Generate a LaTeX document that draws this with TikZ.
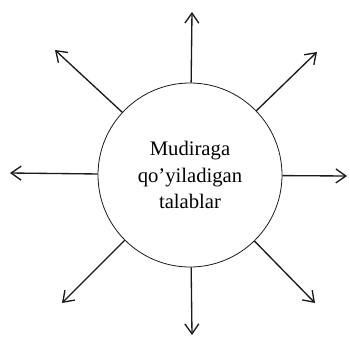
\documentclass[tikz,border=0pt]{standalone}
\usepackage{fontspec}
\setmainfont{Liberation Serif}
\usetikzlibrary{arrows.meta}

\begin{document}
\begin{tikzpicture}[x=0.75pt, y=-0.75pt]
    % Define circle size
    \def\circleSize{138pt}

    \definecolor{borderColour}{HTML}{1A1A1A}

    % Fix the picture margins
    \useasboundingbox (0,0) rectangle (350,340);

    % Draw the central circle
    \node[circle, draw=borderColour, line width=0.6pt, minimum size=\circleSize,
          align=center, font=\fontsize{15.5}{20}\selectfont] (req) at (190,175)
        {Mudiraga\\qo'yiladigan\\talablar};

    % Define the arrow tips
    \coordinate (tipN)  at (192,12);
    \coordinate (tipNE) at (317,52);
    \coordinate (tipE)  at (347,176);
    \coordinate (tipSE) at (315,303);
    \coordinate (tipS)  at (192,335);
    \coordinate (tipSW) at (62,303);
    \coordinate (tipW)  at (10,173);
    \coordinate (tipNW) at (55,50);

    % Draw the arrows
    \foreach \dir in {N,NE,E,SE,S,SW,W,NW}
        \draw[borderColour, line width=1pt, -{Straight Barb[length=7.5pt,width=10.5pt]}]
            (req) -- (tip\dir);

\end{tikzpicture}
\end{document}
